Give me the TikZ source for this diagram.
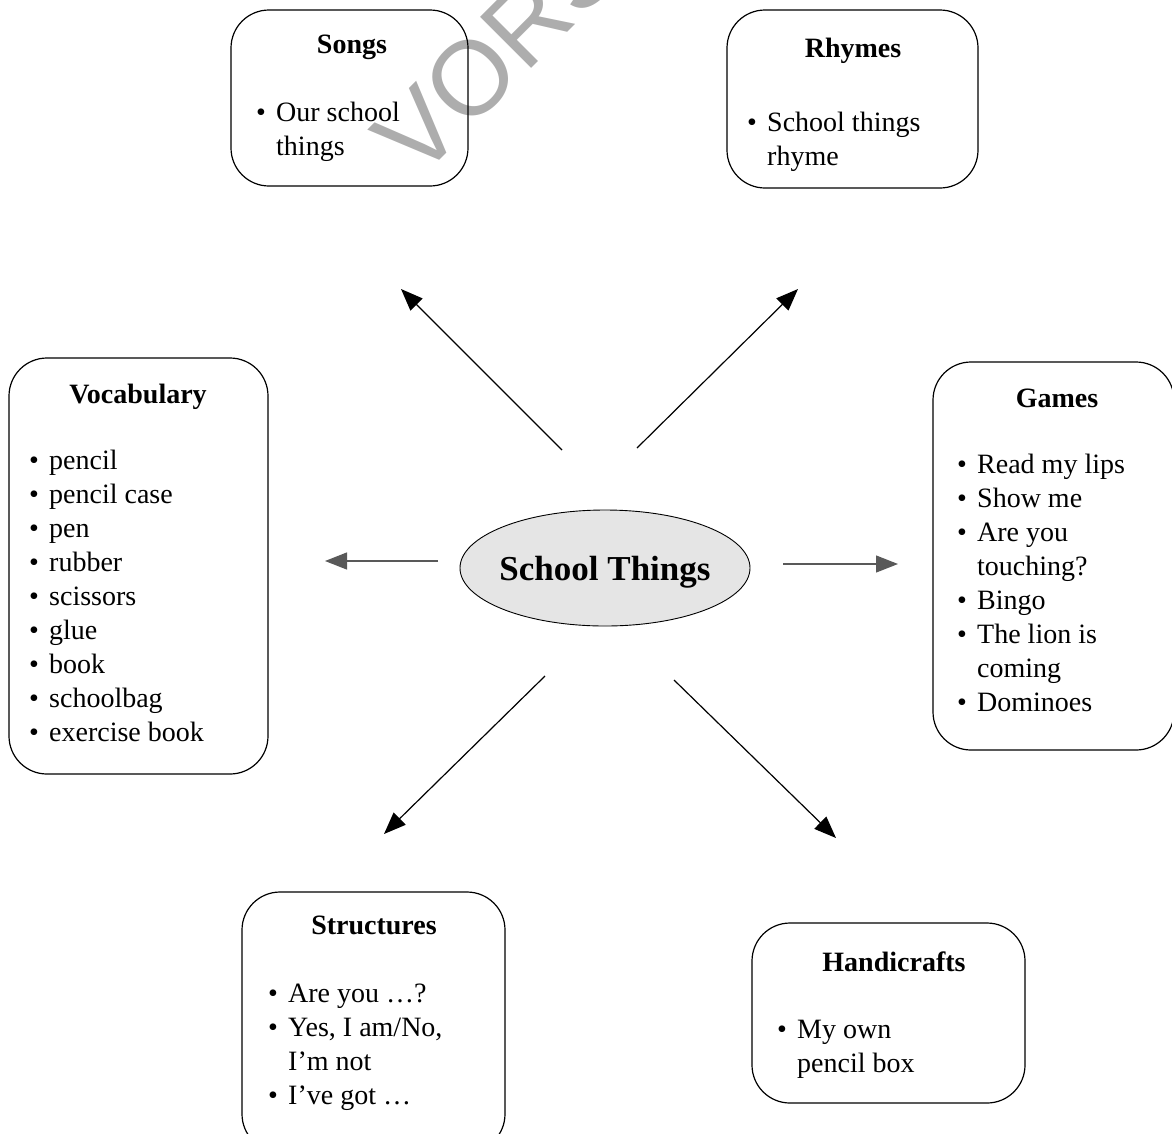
\documentclass[tikz,border=0pt]{standalone}
\usepackage{fontspec}
\setmainfont{Liberation Serif}
\newfontfamily\wmfont{Liberation Sans}
\usetikzlibrary{arrows.meta,shapes.geometric}
\newcommand\bl{\makebox[20pt][l]{\textbullet}}
\newcommand\ind{\hspace*{20pt}}
\newcommand\lstbox[1]{\parbox[t]{240pt}{\raggedright\fontsize{28}{34}\selectfont #1}}
\begin{document}
\begin{tikzpicture}[x=1pt,y=-1pt,
  box/.style={draw, line width=1.2pt, rounded corners=38pt, inner sep=0pt, outer sep=0pt},
  ttl/.style={font=\fontsize{28}{34}\selectfont\bfseries, anchor=base, inner sep=0pt},
  lst/.style={anchor=base west, inner sep=0pt},
  arr/.style={line width=1.2pt, -{Triangle[length=22pt,width=17pt]}},
  wm/.style={font=\fontsize{105}{105}\selectfont\wmfont, text=black!32, rotate=45, anchor=base west, inner sep=0pt}]
\useasboundingbox (0,0) rectangle (1172,1133);
\clip (0,0) rectangle (1172,1133);
% watermark
\node[wm] (wmark) at (418,182) {VORS};
% boxes
\node[box, minimum width=237pt, minimum height=176pt] (songs) at (349.5,98) {};
\node[box, minimum width=251pt, minimum height=178pt] (rhymes) at (852.5,99) {};
\node[box, minimum width=259pt, minimum height=416pt] (vocab) at (138.5,566) {};
\node[box, minimum width=241pt, minimum height=388pt] (games) at (1053.5,556) {};
\node[box, minimum width=263pt, minimum height=260pt] (struct) at (373.5,1022) {};
\node[box, minimum width=273pt, minimum height=180pt] (handi) at (888.5,1013) {};
% titles
\node[ttl] (songsT) at (352,53) {Songs};
\node[ttl] (rhymesT) at (853,57) {Rhymes};
\node[ttl] (vocabT) at (138,403) {Vocabulary};
\node[ttl] (gamesT) at (1057,407) {Games};
\node[ttl] (structT) at (374,934) {Structures};
\node[ttl] (handiT) at (894,971) {Handicrafts};
% lists
\node[lst] (songsL) at (256,121) {\lstbox{\bl Our school\\\ind things}};
\node[lst] (rhymesL) at (747,131) {\lstbox{\bl School things\\\ind rhyme}};
\node[lst] (vocabL) at (29,469) {\lstbox{\bl pencil\\\bl pencil case\\\bl pen\\\bl rubber\\\bl scissors\\\bl glue\\\bl book\\\bl schoolbag\\\bl exercise book}};
\node[lst] (gamesL) at (957,473) {\lstbox{\bl Read my lips\\\bl Show me\\\bl Are you\\\ind touching?\\\bl Bingo\\\bl The lion is\\\ind coming\\\bl Dominoes}};
\node[lst] (structL) at (268,1002) {\lstbox{\bl Are you \ldots?\\\bl Yes, I am/No,\\\ind I’m not\\\bl I’ve got \ldots}};
\node[lst] (handiL) at (777,1038) {\lstbox{\bl My own\\\ind pencil box}};
% centre
\node[ellipse, draw, line width=0.9pt, fill=black!10, minimum width=290pt, minimum height=116pt, inner sep=0pt] (centre) at (605,568) {};
\node[font=\fontsize{35}{40}\selectfont\bfseries, anchor=base, inner sep=0pt] (centreT) at (605,580) {School\ Things};
% arrow ends
\coordinate (ulA) at (562,450); \coordinate (ulB) at (401,289);
\coordinate (urA) at (637,448); \coordinate (urB) at (798,289);
\coordinate (lA) at (438,561);  \coordinate (lB) at (325,561);
\coordinate (rA) at (783,564);  \coordinate (rB) at (898,564);
\coordinate (dlA) at (545,676); \coordinate (dlB) at (384,834);
\coordinate (drA) at (674,680); \coordinate (drB) at (836,838);
\draw[arr] (ulA) -- (ulB);
\draw[arr] (urA) -- (urB);
\draw[arr, draw=black!65] (lA) -- (lB);
\draw[arr, draw=black!65] (rA) -- (rB);
\draw[arr] (dlA) -- (dlB);
\draw[arr] (drA) -- (drB);
\end{tikzpicture}
\end{document}
